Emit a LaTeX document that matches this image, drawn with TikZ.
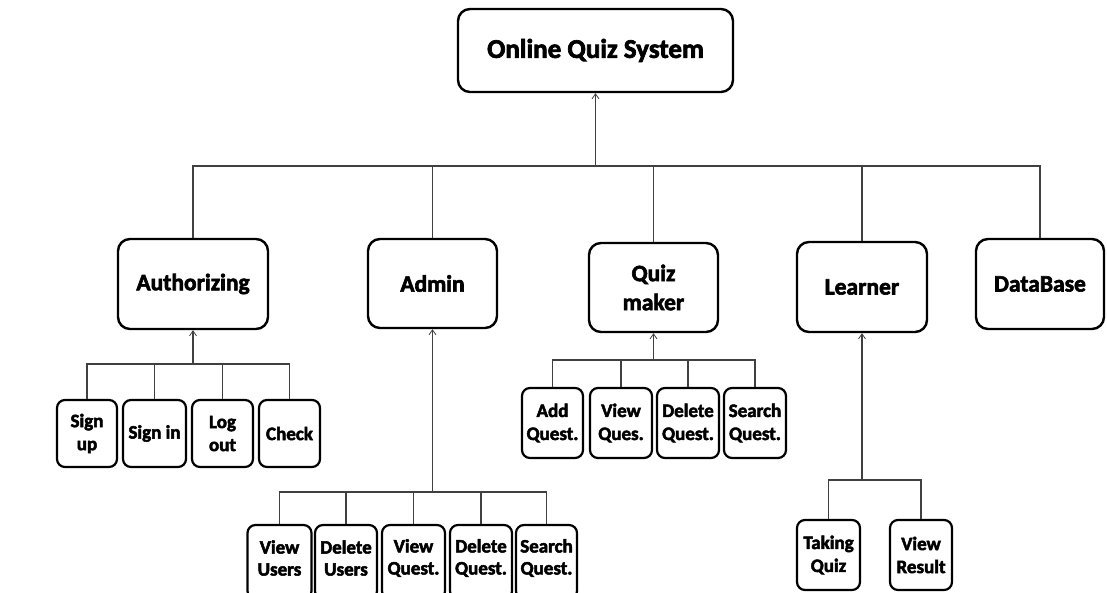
\documentclass[tikz,border=0pt]{standalone}
\usepackage{fontspec}
\setmainfont{Carlito}[BoldFeatures={FakeBold=2.6}]
\usetikzlibrary{arrows.meta}
\begin{document}
\begin{tikzpicture}[x=1pt,y=-1pt,
  box/.style={draw=black, line width=2.4pt, rounded corners=12pt, fill=white,
    align=center, inner sep=0pt, font=\bfseries\fontsize{23.5}{29}\selectfont},
  topbox/.style={box, font=\bfseries\fontsize{27}{32}\selectfont},
  leaf/.style={box, line width=2.2pt, rounded corners=8pt,
    font=\bfseries\fontsize{19}{23}\selectfont},
  leaftext/.style={align=center, inner sep=0pt, yshift=4pt,
    font=\bfseries\fontsize{19}{22}\selectfont},
  link/.style={draw=black!75, line width=1.1pt},
  up/.style={link, -{Straight Barb[length=5pt,width=7pt,line width=0.8pt]}}]
\useasboundingbox (0,0) rectangle (1107,593);
\clip (0,0) rectangle (1107,593);

% root
\node[topbox, minimum width=275, minimum height=83] (top) at (595.5,50.5) {Online Quiz System};

% modules
\node[box, minimum width=150, minimum height=90] (auth)    at (193,284)    {Authorizing};
\node[box, minimum width=129, minimum height=89] (admin)   at (432.5,283.5) {Admin};
\node[box, minimum width=129, minimum height=89] (qm)      at (653.5,287.5) {Quiz\\maker};
\node[box, minimum width=130, minimum height=90] (learner) at (862,287)    {Learner};
\node[box, minimum width=128, minimum height=90] (db)      at (1040,284)   {DataBase};

% authorizing functions
\node[leaf, minimum width=60, minimum height=67] (su) at (87,433.5)    {Sign\\up};
\node[leaf, minimum width=63, minimum height=67] (si) at (154.5,433.5) {Sign in};
\node[leaf, minimum width=61, minimum height=67] (lo) at (222.5,433.5) {Log\\out};
\node[leaf, minimum width=61, minimum height=67] (ck) at (289.5,433.5) {Check};

% admin functions (boxes run past the lower edge)
\node[leaf, minimum width=64, minimum height=74, label={[leaftext]center:{View\\Users}}]    (vu) at (279.5,562) {};
\node[leaf, minimum width=62, minimum height=74, label={[leaftext]center:{Delete\\Users}}]  (du) at (346,562)   {};
\node[leaf, minimum width=63, minimum height=74, label={[leaftext]center:{View\\Quest.}}]   (vq) at (413.5,562) {};
\node[leaf, minimum width=62, minimum height=74, label={[leaftext]center:{Delete\\Quest.}}] (dq) at (481,562)   {};
\node[leaf, minimum width=61, minimum height=74, label={[leaftext]center:{Search\\Quest.}}] (sq) at (546.5,562) {};

% quiz maker functions
\node[leaf, minimum width=61, minimum height=70] (aq2) at (552.5,423) {Add\\Quest.};
\node[leaf, minimum width=62, minimum height=70] (vq2) at (621,423)   {View\\Ques.};
\node[leaf, minimum width=62, minimum height=70] (dq2) at (688,423)   {Delete\\Quest.};
\node[leaf, minimum width=62, minimum height=70] (sq2) at (755,423)   {Search\\Quest.};

% learner functions
\node[leaf, minimum width=63, minimum height=70] (tq) at (828.5,555) {Taking\\Quiz};
\node[leaf, minimum width=62, minimum height=70] (vr) at (921,555)   {View\\Result};

% bus junctions
\coordinate (rootbus) at (595.5,166);
\coordinate (authbus) at (193,364);
\coordinate (admbus)  at (432.5,492);
\coordinate (qmbus)   at (653.5,360);
\coordinate (lrnbus)  at (862,480);

% root level
\foreach \n in {auth,admin,qm,learner,db}
  \draw[link] (\n.north) |- (rootbus);
\draw[up] (rootbus) -- (top.south);

% authorizing level
\foreach \n in {su,si,lo,ck}
  \draw[link] (\n.north) |- (authbus);
\draw[up] (authbus) -- (auth.south);

% admin level
\foreach \n in {vu,du,vq,dq,sq}
  \draw[link] (\n.north) |- (admbus);
\draw[up] (admbus) -- (admin.south);

% quiz maker level
\foreach \n in {aq2,vq2,dq2,sq2}
  \draw[link] (\n.north) |- (qmbus);
\draw[up] (qmbus) -- (qm.south);

% learner level
\foreach \n in {tq,vr}
  \draw[link] (\n.north) |- (lrnbus);
\draw[up] (lrnbus) -- (learner.south);
\end{tikzpicture}
\end{document}
